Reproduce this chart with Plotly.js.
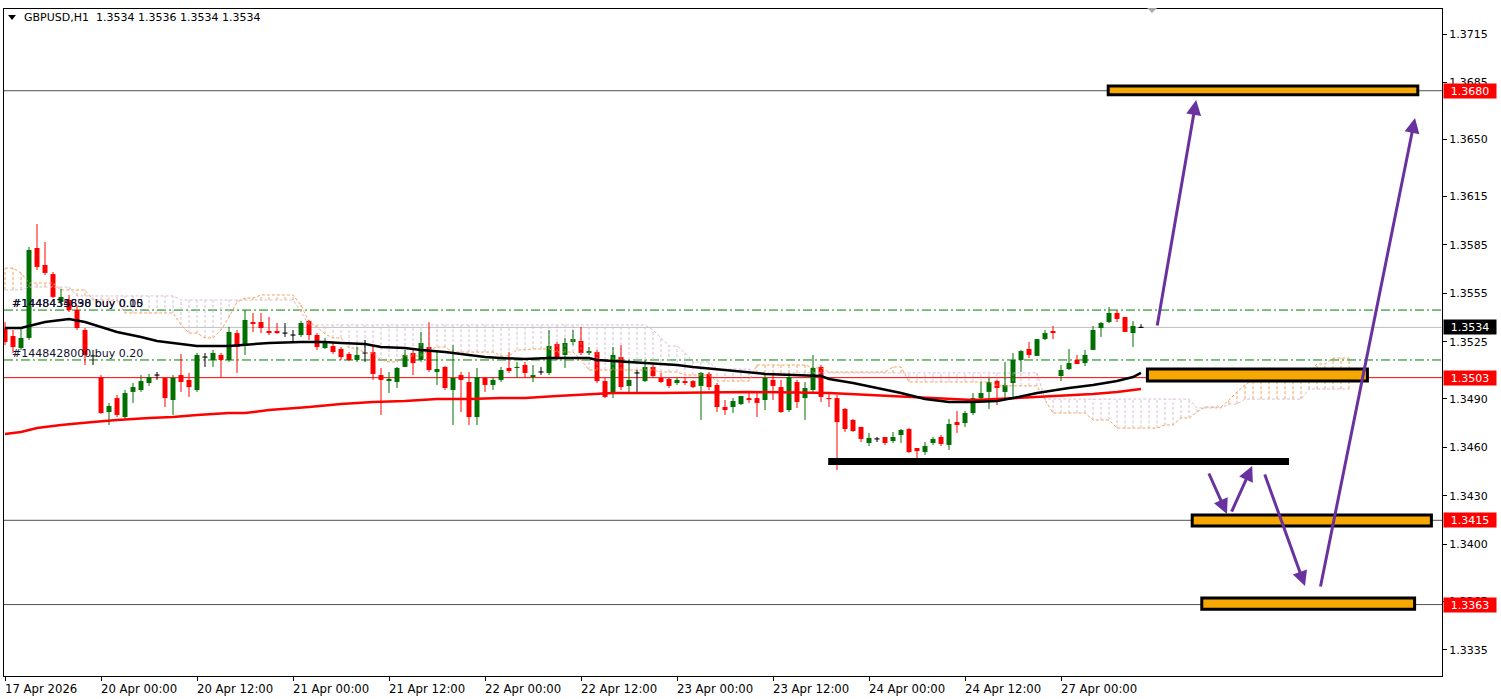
<!DOCTYPE html>
<html><head><meta charset="utf-8">
<script src="https://cdn.plot.ly/plotly-3.0.1.min.js"></script>
<style>html,body{margin:0;padding:0;background:#fff}#chart{width:1501px;height:699px}</style>
</head><body><div id="chart"></div>
<script>
// ---- GBPUSD H1 candles (bar index 0 = 17 Apr 12:00) ----
const opens=[1.35336,1.35287,1.35213,1.35275,1.3583,1.35725,1.35669,1.35497,1.35509,1.35447,
1.35324,1.35164,1.35034,1.34818,1.34904,1.34787,1.34942,1.34954,1.34997,1.35046,
1.35028,1.34892,1.35046,1.35016,1.34954,1.35157,1.35139,1.3517,1.35139,1.35305,
1.35231,1.35373,1.35373,1.35318,1.35318,1.35305,1.35293,1.35293,1.35379,1.35293,
1.35213,1.35225,1.35207,1.35176,1.35139,1.35182,1.35188,1.35046,1.35009,1.35003,
1.35096,1.35182,1.35139,1.35219,1.35065,1.35096,1.34954,1.35046,1.35003,1.34787,
1.35028,1.34985,1.35016,1.3509,1.3509,1.35108,1.35034,1.35065,1.35059,1.35238,
1.3517,1.3525,1.35256,1.35182,1.35188,1.35009,1.34935,1.35157,1.34979,1.35059,
1.35009,1.35096,1.35028,1.35022,1.34997,1.35009,1.35009,1.34979,1.35053,1.34985,
1.34849,1.34849,1.34867,1.34904,1.34904,1.34892,1.35016,1.34972,1.3483,1.35003,
1.34904,1.34954,1.35096,1.34904,1.34904,1.34837,1.34769,1.34726,1.34627,1.34652,
1.34664,1.34639,1.34676,1.34713,1.34596,1.34571,1.34627,1.34664,1.34615,1.34756,
1.3475,1.34812,1.34904,1.34942,1.35009,1.34942,1.34997,1.35139,1.35207,1.35164,
1.35268,1.35318,1.3504,1.35083,1.35139,1.3512,1.35201,1.35336,1.35373,1.35429,
1.35404,1.35305,1.3534];
const highs=[1.35373,1.35324,1.35336,1.35836,1.35978,1.35867,1.35682,1.35577,1.3554,1.35478,
1.35336,1.35201,1.35046,1.34874,1.34923,1.34954,1.34997,1.35046,1.35053,1.35065,
1.35034,1.35046,1.35176,1.35059,1.35182,1.35182,1.35201,1.35182,1.35343,1.35324,
1.35447,1.35429,1.35429,1.35404,1.35367,1.35367,1.35324,1.35379,1.35386,1.35305,
1.35275,1.35244,1.35219,1.35188,1.35219,1.35262,1.35231,1.3509,1.35065,1.35096,
1.35201,1.35201,1.35312,1.35373,1.35201,1.35102,1.35231,1.35065,1.35065,1.3509,
1.35034,1.35034,1.35096,1.35188,1.35127,1.35127,1.35108,1.35096,1.35324,1.3525,
1.35275,1.35324,1.35343,1.35219,1.35201,1.35028,1.35219,1.35231,1.35139,1.35077,
1.35139,1.35108,1.35059,1.35028,1.35028,1.35028,1.35016,1.35065,1.35065,1.34997,
1.34892,1.34904,1.34917,1.34935,1.34935,1.35059,1.35059,1.35016,1.35059,1.35016,
1.35003,1.3517,1.35108,1.34942,1.34923,1.34843,1.34775,1.34726,1.34689,1.34664,
1.34664,1.34695,1.34713,1.34719,1.34596,1.34633,1.34664,1.34676,1.34775,1.34824,
1.34824,1.34935,1.35003,1.35028,1.35016,1.35127,1.35182,1.35201,1.3525,1.35268,
1.35324,1.35349,1.35108,1.35207,1.3517,1.35201,1.35349,1.35373,1.35466,1.35447,
1.35404,1.35379,1.3536];
const lows=[1.35231,1.35182,1.35201,1.35262,1.35694,1.35663,1.35521,1.35478,1.35435,1.35324,
1.35108,1.35108,1.34806,1.34738,1.34787,1.34769,1.34874,1.34942,1.34979,1.35016,
1.34849,1.348,1.34942,1.34911,1.34942,1.35096,1.35096,1.35034,1.35127,1.35059,
1.3517,1.35312,1.35305,1.35293,1.35299,1.35281,1.3525,1.35281,1.35262,1.35201,
1.35207,1.35176,1.35139,1.35133,1.35127,1.35127,1.35016,1.348,1.34935,1.34966,
1.35096,1.35046,1.35127,1.35065,1.34985,1.34954,1.34738,1.34818,1.34738,1.34738,
1.34942,1.34954,1.35003,1.35059,1.35028,1.35028,1.35003,1.35046,1.35046,1.35139,
1.3509,1.35231,1.3517,1.3517,1.34997,1.34904,1.34904,1.34954,1.34935,1.34942,
1.35003,1.35034,1.34997,1.34966,1.34985,1.34985,1.34966,1.34769,1.34954,1.34818,
1.348,1.34812,1.34861,1.34874,1.34787,1.3483,1.34892,1.34812,1.34818,1.34843,
1.34769,1.34935,1.3488,1.34849,1.3446,1.34695,1.34695,1.34633,1.34608,1.34633,
1.34615,1.34627,1.34627,1.34565,1.34534,1.34553,1.34615,1.34608,1.34584,1.34689,
1.34726,1.348,1.34892,1.34837,1.34861,1.34904,1.34904,1.35065,1.35151,1.35164,
1.35262,1.35268,1.35009,1.35077,1.35114,1.35102,1.35201,1.35281,1.35367,1.35373,
1.35312,1.35219,1.3534];
const closes=[1.3525,1.35219,1.35275,1.35818,1.35713,1.35676,1.35528,1.35528,1.35447,1.35336,
1.3517,1.35164,1.34812,1.34855,1.348,1.34935,1.34972,1.35009,1.35034,1.35046,
1.34904,1.35028,1.35003,1.34972,1.3517,1.35157,1.35182,1.35139,1.35312,1.35219,
1.35386,1.35361,1.35336,1.35305,1.35305,1.35305,1.35293,1.35367,1.35293,1.35219,
1.35244,1.35188,1.35157,1.35139,1.3517,1.35182,1.35053,1.35016,1.35022,1.3509,
1.3517,1.3512,1.35244,1.35077,1.35083,1.34966,1.35028,1.35016,1.34787,1.35034,
1.34985,1.35016,1.35077,1.35071,1.35096,1.35059,1.35046,1.35065,1.35225,1.35157,
1.35244,1.35268,1.35182,1.35194,1.35009,1.34911,1.3517,1.34972,1.35016,1.35059,
1.35096,1.3504,1.35003,1.34979,1.35016,1.34997,1.34972,1.35059,1.34972,1.34849,
1.3483,1.34886,1.34917,1.34892,1.34874,1.35028,1.34979,1.34818,1.35034,1.3488,
1.34966,1.3509,1.34911,1.34898,1.34756,1.34713,1.34701,1.34652,1.34658,1.34652,
1.34627,1.34664,1.34707,1.34571,1.34577,1.34608,1.34652,1.34621,1.34744,1.34738,
1.34812,1.34904,1.34935,1.35003,1.34966,1.34985,1.35139,1.35194,1.3517,1.35268,
1.35305,1.35305,1.35077,1.3512,1.35114,1.3517,1.35324,1.35367,1.35429,1.35392,
1.35312,1.35349,1.3534];

// ---- axis labels ----
const xTickIdx=[0,12,24,36,48,60,72,84,96,108,120,132];
const xTickLabels=["17 Apr 2026","20 Apr 00:00","20 Apr 12:00","21 Apr 00:00","21 Apr 12:00","22 Apr 00:00","22 Apr 12:00","23 Apr 00:00","23 Apr 12:00","24 Apr 00:00","24 Apr 12:00","27 Apr 00:00"];
const yTickVals=[1.3715,1.3685,1.3650,1.3615,1.3585,1.3555,1.3525,1.3490,1.3460,1.3430,1.3400,1.3365,1.3335];

// ---- moving averages (sampled along the line) ----
const maBlackIdx=[0,2,5,8,10,12,14,17,19,22,24,28,30,33,37,40,42,45,47,50,52,55,58,60,62,65,68,73,74,78,81,84,86,90,93,95,102,103,106,109,112,115,118,121,124,126,129,133,136,139,141,142];
const maBlackVal=[1.35336,1.35336,1.35373,1.35392,1.35373,1.35343,1.35312,1.35281,1.35256,1.35238,1.35225,1.35225,1.35231,1.35244,1.3525,1.3525,1.35244,1.35238,1.35219,1.35213,1.35201,1.35188,1.3517,1.35157,1.35151,1.35145,1.35151,1.35151,1.35139,1.35127,1.3512,1.35108,1.35096,1.35077,1.35065,1.35053,1.3504,1.35022,1.34997,1.34966,1.34935,1.34898,1.3488,1.3488,1.34886,1.34904,1.34935,1.34966,1.34985,1.35009,1.35034,1.35059];
const maRedIdx=[0,2,4,7,11,14,18,21,24,28,30,33,38,42,46,50,54,58,62,65,69,72,76,82,93,103,108,113,117,121,124,129,133,136,139,142];
const maRedVal=[1.34682,1.34695,1.34719,1.34738,1.34756,1.34769,1.34781,1.34787,1.348,1.34812,1.34812,1.3483,1.34849,1.34867,1.3488,1.34886,1.34898,1.34898,1.34904,1.34904,1.34917,1.34923,1.34935,1.34935,1.34942,1.34935,1.34923,1.34911,1.34898,1.34892,1.34898,1.34911,1.34917,1.34929,1.34942,1.3496];

// ---- Ichimoku cloud spans: [fromIdx, toIdx, price] ----
const spanARuns=[[0,1,1.35706],[2,2,1.35676],[3,6,1.35614],[7,10,1.35571],[11,14,1.35509],[15,21,1.35429],[22,22,1.35355],[23,24,1.35305],[25,26,1.35275],[27,27,1.35324],[28,28,1.35404],[29,29,1.35497],[30,31,1.35521],[32,36,1.3554],[37,37,1.35478],[38,38,1.35373],[39,39,1.35343],[40,40,1.35299],[41,42,1.35275],[43,44,1.35213],[45,46,1.35182],[47,47,1.35139],[48,49,1.35127],[50,52,1.35164],[53,53,1.35201],[54,55,1.35219],[56,61,1.35188],[62,63,1.35164],[64,65,1.35201],[66,68,1.35207],[69,71,1.35188],[72,72,1.35139],[73,81,1.35077],[82,84,1.35065],[85,88,1.35046],[89,93,1.35009],[94,100,1.35108],[101,102,1.3509],[103,110,1.35065],[111,112,1.35096],[113,123,1.35003],[124,129,1.34979],[130,130,1.34892],[131,135,1.34812],[136,138,1.34769],[139,144,1.34719],[145,146,1.34738],[147,148,1.34781],[149,149,1.34818],[150,152,1.34849],[153,153,1.34892],[154,154,1.34942],[155,155,1.34985],[156,162,1.35016],[163,163,1.35065],[164,165,1.35114],[166,168,1.35151]];
const spanBRuns=[[0,2,1.35571],[3,8,1.35589],[9,21,1.35534],[22,36,1.35509],[37,37,1.35435],[38,80,1.35355],[81,81,1.35324],[82,82,1.35275],[83,84,1.35225],[85,85,1.35182],[86,88,1.35127],[89,93,1.35083],[94,129,1.35059],[130,148,1.34898],[149,152,1.34843],[153,154,1.34867],[155,162,1.34898],[163,168,1.3496]];

// ---- horizontal levels ----
const bidLevel=1.3534;
const orderLevels=[1.35447,1.35139];
const orderTexts=[["#1448435898 buy 0.05","#1448434630 buy 0.10"],["#1448428000 buy 0.20"]];
const orderTextLevels=[1.3549,1.35182];
const redLevel=1.3503;
const drawnLevels=[1.3680,1.3415,1.3363];
const priceTagLevels=[1.3680,1.3534,1.3503,1.3415,1.3363];
const priceTagColors=["#ff0000","#000000","#ff0000","#ff0000","#ff0000"];

// ---- drawn zones [startIdx, endIdx, low, high] ----
const zones=[[137.9,176.6,1.36775,1.36829],[142.8,170.3,1.35009,1.35083],[148.4,178.3,1.34115,1.34183],[149.6,176.2,1.33602,1.33670]];
const blackLine=[102.9,160.5,1.34513];
// arrows [tailIdx, tailPrice, headIdx, headPrice]
const arrows=[[144,1.35343,148.9,1.36743],[150.4,1.34448,152.75,1.34189],[153.25,1.34195,155.9,1.34485],[157.4,1.34442,162.5,1.33744],[164.4,1.33732,176.25,1.36632]];

// ===== build =====
const GREEN="#007000", RED="#ff0000";
const g={x:[],b:[],h:[]}, r={x:[],b:[],h:[]}, d={x:[],b:[],h:[]};
const wg={x:[],y:[]}, wr={x:[],y:[]}, wd={x:[],y:[]};
const minH=0.00007;
for(let i=0;i<opens.length;i++){
  const o=opens[i],c=closes[i],hi=highs[i],lo=lows[i];
  let t, w;
  if(Math.abs(c-o)<0.00002){t=d;w=wd;} else if(c>o){t=g;w=wg;} else {t=r;w=wr;}
  const lowB=Math.min(o,c), hgt=Math.max(Math.abs(c-o),minH);
  t.x.push(i); t.b.push(Math.abs(c-o)<minH? (o+c)/2-minH/2 : lowB); t.h.push(hgt);
  w.x.push(i,i,null); w.y.push(lo,hi,null);
}
function expand(runs){const a=[];runs.forEach(q=>{for(let i=q[0];i<=q[1];i++)a[i]=q[2];});return a;}
const spanA=expand(spanARuns), spanB=expand(spanBRuns);
const hatchO={x:[],y:[]}, hatchT={x:[],y:[]};
const cloudX=[];
for(let i=0;i<spanA.length;i++){
  cloudX.push(i);
  const a=spanA[i], b=spanB[i];
  if(a>=b){hatchO.x.push(i,i,null);hatchO.y.push(b,a,null);}
  else {hatchT.x.push(i,i,null);hatchT.y.push(a,b,null);}
}
const SANDY="#f4a460", THISTLE="#d8bfd8";
const traces=[
 {type:'scatter',mode:'lines',x:hatchT.x,y:hatchT.y,line:{color:THISTLE,width:1,dash:'3px,2px'},hoverinfo:'skip'},
 {type:'scatter',mode:'lines',x:hatchO.x,y:hatchO.y,line:{color:SANDY,width:1,dash:'3px,2px'},hoverinfo:'skip'},
 {type:'scatter',mode:'lines',x:cloudX,y:spanB,line:{color:THISTLE,width:1,dash:'3px,2px'},hoverinfo:'skip'},
 {type:'scatter',mode:'lines',x:cloudX,y:spanA,line:{color:SANDY,width:1,dash:'3px,2px'},hoverinfo:'skip'},
 {type:'scatter',mode:'lines',x:wg.x,y:wg.y,line:{color:GREEN,width:1},hoverinfo:'skip'},
 {type:'scatter',mode:'lines',x:wr.x,y:wr.y,line:{color:RED,width:1},hoverinfo:'skip'},
 {type:'scatter',mode:'lines',x:wd.x,y:wd.y,line:{color:'#000',width:1},hoverinfo:'skip'},
 {type:'bar',x:g.x,base:g.b,y:g.h,width:0.62,marker:{color:GREEN,line:{width:0}},hoverinfo:'skip'},
 {type:'bar',x:r.x,base:r.b,y:r.h,width:0.62,marker:{color:RED,line:{width:0}},hoverinfo:'skip'},
 {type:'bar',x:d.x,base:d.b,y:d.h,width:0.62,marker:{color:'#000',line:{width:0}},hoverinfo:'skip'},
 {type:'scatter',mode:'lines',x:maRedIdx,y:maRedVal,line:{color:RED,width:2.5},hoverinfo:'skip'},
 {type:'scatter',mode:'lines',x:maBlackIdx,y:maBlackVal,line:{color:'#000',width:2.5},hoverinfo:'skip'}
];

const shapes=[];
shapes.push({type:'line',xref:'paper',x0:0,x1:1,yref:'y',y0:bidLevel,y1:bidLevel,line:{color:'#c0c0c0',width:1},layer:'below'});
orderLevels.forEach(v=>shapes.push({type:'line',xref:'paper',x0:0,x1:1,yref:'y',y0:v,y1:v,line:{color:'#008000',width:1,dash:'9px,3px,2px,3px'},layer:'below'}));
shapes.push({type:'line',xref:'paper',x0:0,x1:1,yref:'y',y0:redLevel,y1:redLevel,line:{color:'#ff0000',width:1},layer:'below'});
drawnLevels.forEach(v=>shapes.push({type:'line',xref:'paper',x0:0,x1:1,yref:'y',y0:v,y1:v,line:{color:'#505050',width:1},layer:'below'}));
zones.forEach(z=>shapes.push({type:'rect',xref:'x',yref:'y',x0:z[0],x1:z[1],y0:z[2],y1:z[3],fillcolor:'#f7a800',line:{color:'#000',width:3},layer:'above'}));
shapes.push({type:'line',xref:'x',yref:'y',x0:blackLine[0],x1:blackLine[1],y0:blackLine[2],y1:blackLine[2],line:{color:'#000',width:7},layer:'above'});
// chart shift marker & header triangle
shapes.push({type:'path',xref:'paper',yref:'paper',path:'M 0.7949 1.0015 L 0.8018 1.0015 L 0.7983 0.994 Z',fillcolor:'#a8a8a8',line:{width:0}});
shapes.push({type:'path',xref:'paper',yref:'paper',path:'M 0.0028 0.991 L 0.0083 0.991 L 0.0056 0.9835 Z',fillcolor:'#000',line:{width:0}});

const annotations=[];
xTickIdx.forEach((v,k)=>annotations.push({x:v,xref:'x',y:0,yref:'paper',yanchor:'top',xanchor:'left',xshift:-2,yshift:-3,text:xTickLabels[k],showarrow:false,font:{family:'Liberation Sans Narrow, Arial Narrow, DejaVu Sans Condensed, Liberation Sans, sans-serif',size:13,color:'#000'}}));
priceTagLevels.forEach((v,k)=>annotations.push({x:1,xref:'paper',xanchor:'left',xshift:1,y:v,yref:'y',yanchor:'middle',text:v.toFixed(4),showarrow:false,bgcolor:priceTagColors[k],width:50,height:12,borderpad:1,align:'center',font:{family:'DejaVu Sans',size:11,color:'#fff'}}));
orderTexts.forEach((arr,k)=>arr.forEach(tx=>annotations.push({x:0.0062,xref:'paper',xanchor:'left',xshift:-3,y:orderTextLevels[k],yref:'y',yanchor:'middle',text:tx,showarrow:false,font:{family:'DejaVu Sans',size:11,color:'#101030'}})));
annotations.push({x:0.0125,xref:'paper',xanchor:'left',y:0.988,yref:'paper',yanchor:'middle',text:'GBPUSD,H1\u00a0\u00a0'+[opens[142],highs[142],lows[142],closes[142]].map(v=>v.toFixed(4)).join(' '),showarrow:false,font:{family:'DejaVu Sans',size:11,color:'#000'}});
arrows.forEach(a=>annotations.push({x:a[2],y:a[3],xref:'x',yref:'y',ax:a[0],ay:a[1],axref:'x',ayref:'y',text:'',showarrow:true,arrowhead:2,arrowsize:1,arrowwidth:3,arrowcolor:'#6a329f',standoff:0,startstandoff:0}));

const layout={
 width:1501,height:699,margin:{l:4,r:59,t:9,b:23},paper_bgcolor:'#fff',plot_bgcolor:'#fff',
 showlegend:false,barmode:'overlay',
 xaxis:{range:[-0.125,179.625],showgrid:false,zeroline:false,tickmode:'array',tickvals:xTickIdx,ticks:'outside',ticklen:4,tickcolor:'#000',showticklabels:false,showline:true,mirror:true,linecolor:'#000',linewidth:1,fixedrange:true,automargin:false},
 yaxis:{side:'right',range:[1.331895,1.373042],showgrid:false,zeroline:false,tickmode:'array',tickvals:yTickVals,ticktext:yTickVals.map(v=>v.toFixed(4)),ticks:'outside',ticklen:4,tickcolor:'#000',tickfont:{family:'DejaVu Sans',size:11,color:'#000'},showline:true,mirror:true,linecolor:'#000',linewidth:1,fixedrange:true,automargin:false},
 shapes:shapes,annotations:annotations
};
Plotly.newPlot('chart',traces,layout,{staticPlot:true,displayModeBar:false});
</script></body></html>
